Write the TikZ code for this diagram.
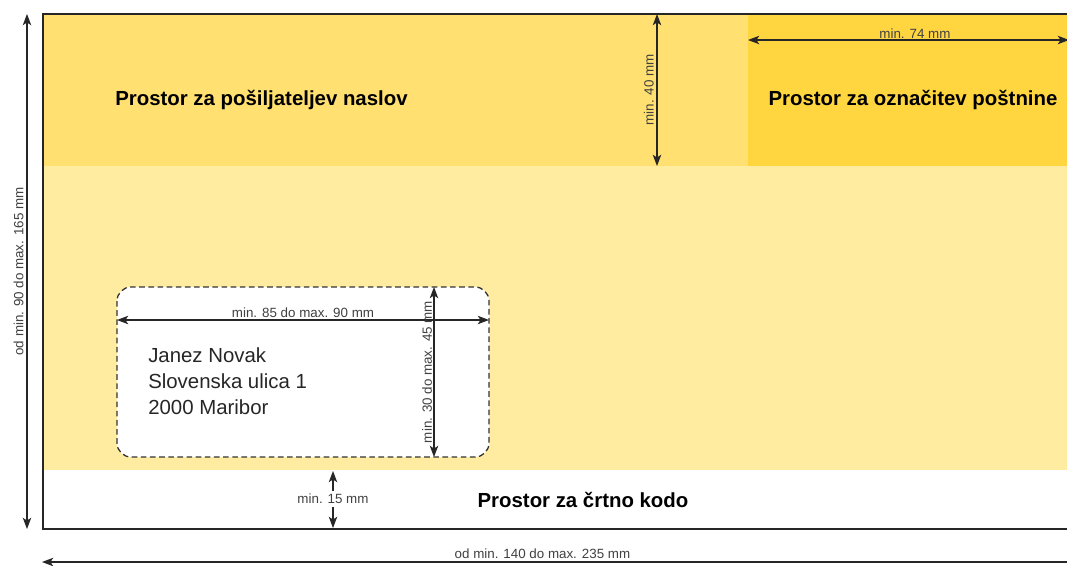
\documentclass[tikz,border=0pt]{standalone}
\usepackage{fontspec}
\setmainfont{Liberation Sans}
\usepackage{tikz}
\usetikzlibrary{calc,positioning,arrows.meta}
\definecolor{bandtop}{RGB}{255,224,112}
\definecolor{bandstamp}{RGB}{255,214,64}
\definecolor{bandmid}{RGB}{255,236,160}
\tikzstyle{dim}      = [line width=0.8pt, draw=black!85, {Stealth[length=8pt,width=6pt,inset=2pt]}-{Stealth[length=8pt,width=6pt,inset=2pt]}]
\tikzstyle{dimone}   = [line width=0.8pt, draw=black!85, -{Stealth[length=8pt,width=6pt,inset=2pt]}]
\tikzstyle{dimlabel} = [font=\fontsize{9.5}{11}\selectfont, text=black!75, inner sep=2pt]
\tikzstyle{zone}     = [font=\bfseries\fontsize{14.5}{17}\selectfont, inner sep=0pt]
\tikzstyle{addrbox}  = [draw=black!80, line width=0.9pt, dash pattern=on 4pt off 2.5pt, rounded corners=10pt, fill=white]

\begin{document}
\begin{tikzpicture}[x=0.025cm,y=-0.025cm]
		\useasboundingbox (0,0) rectangle (1067,566);
		\clip (0,0) rectangle (1067,566);
		\fill[white] (0,0) rectangle (1067,566);

		% envelope
		\coordinate (env nw) at (43,14);
		\coordinate (env se) at (1090,529);
		\fill[bandmid] (43,166) rectangle (1090,470);
		\fill[bandtop] (env nw) rectangle (748,166);
		\fill[bandstamp] (748,14) rectangle (1090,166);
		\draw[line width=1.6pt, black!85] (env nw) rectangle (env se);

		\node[zone, anchor=west] (sender) at (115,100) {Prostor za pošiljateljev naslov};
		\node[zone] (stamp) at (913,100) {Prostor za označitev poštnine};
		\node[zone] (barcode) at (583,500) {Prostor za črtno kodo};

		% overall size
		\coordinate (hgt top) at (27,14);
		\coordinate (hgt bot) at (27,529);
		\draw[dim] (hgt top) -- (hgt bot) node[midway, dimlabel, rotate=90, anchor=south] {od min. 90 do max. 165 mm};
		\coordinate (wid left) at (42,562);
		\coordinate (wid right) at (1100,562);
		\draw[dim] (wid left) -- (wid right) node[pos=0.473, dimlabel, anchor=south] {od min. 140 do max. 235 mm};

		% sender band and stamp
		\coordinate (band top) at (657,14);
		\coordinate (band bot) at (657,166);
		\draw[dim] (band top) -- (band bot) node[midway, dimlabel, rotate=90, anchor=south] {min. 40 mm};
		\coordinate (stamp left) at (748,40);
		\coordinate (stamp right) at (1069,40);
		\draw[dim] (stamp left) -- (stamp right) node[pos=0.52, dimlabel, anchor=south, inner sep=1pt] {min. 74 mm};

		% address field
		\draw[addrbox] (117,287) rectangle (489,457);
		\coordinate (addr left) at (117,320);
		\coordinate (addr right) at (489,320);
		\draw[dim] (addr left) -- (addr right) node[midway, dimlabel, anchor=south, inner sep=1pt] {min. 85 do max. 90 mm};
		\coordinate (addr top) at (434,287);
		\coordinate (addr bot) at (434,457);
		\draw[dim] (addr top) -- (addr bot) node[midway, dimlabel, rotate=90, anchor=south, inner sep=1pt] {min. 30 do max. 45 mm};
		\node[anchor=west, align=left, inner sep=0pt, font=\fontsize{14.5}{18.4}\selectfont, text=black!85] (address) at (148,381) {Janez Novak\\Slovenska ulica 1\\2000 Maribor};

		% barcode band
		\node[dimlabel] (bar lbl) at (333,499) {min. 15 mm};
		\coordinate (bar top) at (333,471);
		\coordinate (bar bot) at (333,528);
		\draw[dimone] (bar lbl.north) -- (bar top);
		\draw[dimone] (bar lbl.south) -- (bar bot);
	\end{tikzpicture}
\end{document}
